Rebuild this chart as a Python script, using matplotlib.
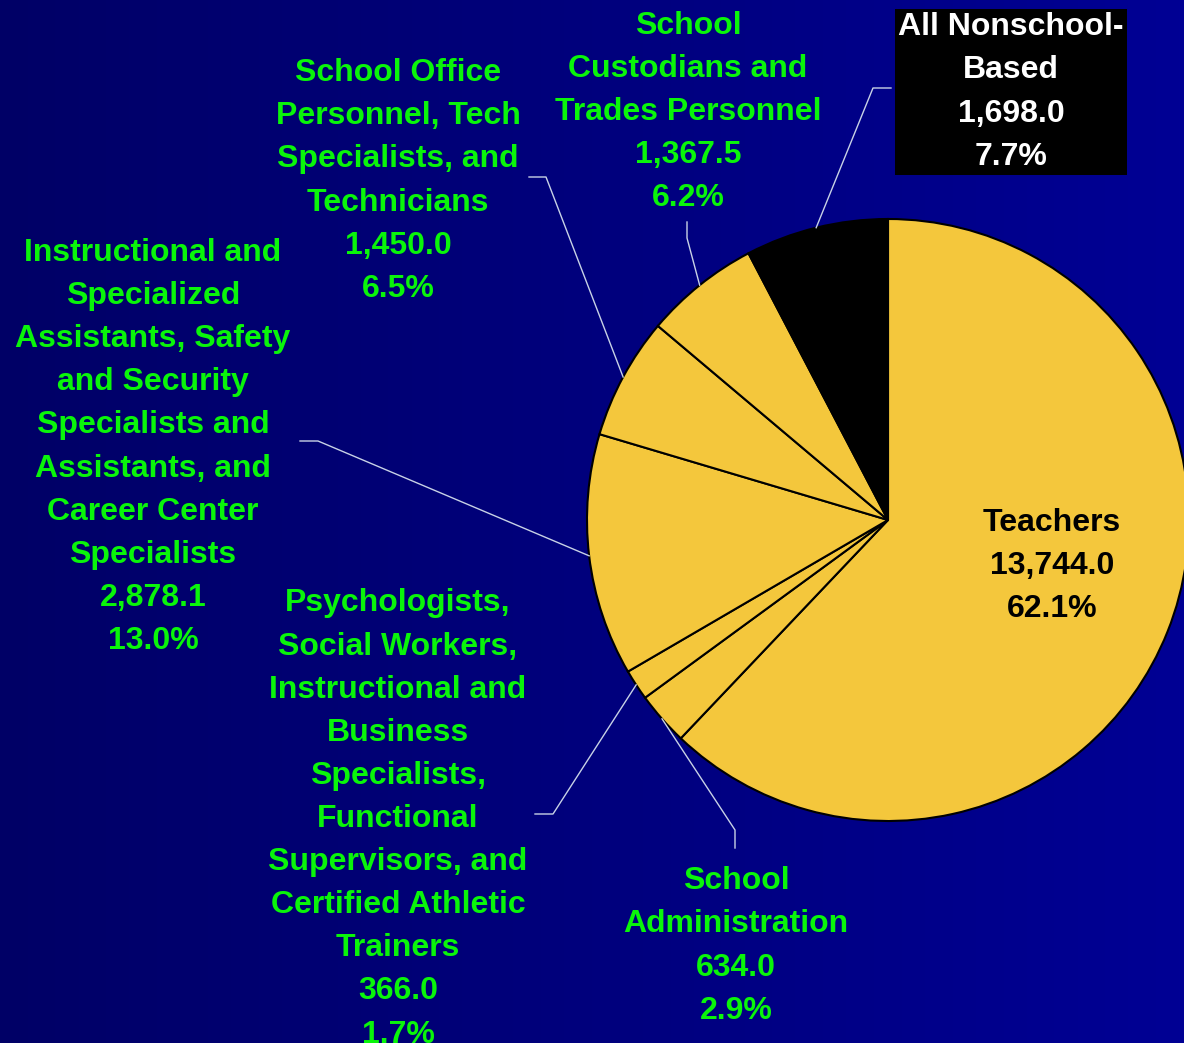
import numpy as np
import matplotlib
matplotlib.use("Agg")
import matplotlib.pyplot as plt

# данные
labels = ["Teachers", "School\nAdministration",
          "Psychologists,\nSocial Workers,\nInstructional and\nBusiness\nSpecialists,\nFunctional\nSupervisors, and\nCertified Athletic\nTrainers",
          "Instructional and\nSpecialized\nAssistants, Safety\nand Security\nSpecialists and\nAssistants, and\nCareer Center\nSpecialists",
          "School Office\nPersonnel, Tech\nSpecialists, and\nTechnicians",
          "School\nCustodians and\nTrades Personnel",
          "All Nonschool-\nBased"]
values = [13744.0, 634.0, 366.0, 2878.1, 1450.0, 1367.5, 1698.0]
pcts = ["62.1%", "2.9%", "1.7%", "13.0%", "6.5%", "6.2%", "7.7%"]
colors = ["#F4C73C"] * 6 + ["#000000"]

W, H = 1184, 1043
fig = plt.figure(figsize=(W / 100, H / 100), dpi=100)
ax = fig.add_axes([0, 0, 1, 1])

# фон - градиент
grad = np.linspace(0, 1, 256).reshape(1, -1)
bg = matplotlib.colors.LinearSegmentedColormap.from_list("bg", ["#000066", "#000094"])
ax.imshow(grad, extent=[0, W, 0, H], cmap=bg, aspect="auto", zorder=0)

cx, cy, r = 888, H - 520, 301
wedges, _ = ax.pie(values, colors=colors, startangle=90, counterclock=False,
                   center=(cx, cy), radius=r, frame=True,
                   wedgeprops=dict(edgecolor="black", linewidth=1.5))
ax.set_xlim(0, W)
ax.set_ylim(0, H)
ax.set_aspect("equal")
ax.axis("off")
for w in wedges:
    w.set_zorder(2)

green = "#0AF50A"
font = dict(family="Liberation Sans", fontweight="bold", fontsize=23,
            ha="center", va="center", linespacing=1.57, zorder=5)

def fmt(v):
    return f"{v:,.1f}"

# позиции подписей (x, y в пикселях сверху) и изломы линий
label_pos = {
    0: (1052, 566),
    1: (736, 946),
    2: (398, 819),
    3: (153, 447),
    4: (398, 181),
    5: (688, 112),
    6: (1011, 92),
}
leaders = {
    1: [(735, 830), (735, 848)],
    2: [(553, 814), (535, 814)],
    3: [(318, 441), (300, 441)],
    4: [(546, 177), (529, 177)],
    5: [(687, 238), (687, 222)],
    6: [(873, 88), (891, 88)],
}

for i, w in enumerate(wedges):
    text = f"{labels[i]}\n{fmt(values[i])}\n{pcts[i]}"
    x, y = label_pos[i]
    if i == 0:
        ax.text(x, H - y, text, color="black", **font)
    elif i == 6:
        ax.text(x, H - y, text, color="white",
                bbox=dict(facecolor="black", edgecolor="none", pad=2), **font)
    else:
        ax.text(x, H - y, text, color=green, **font)
    if i in leaders:
        ang = np.deg2rad((w.theta1 + w.theta2) / 2)
        px, py = cx + r * np.cos(ang), cy + r * np.sin(ang)
        pts = [(px, py)] + [(a, H - b) for a, b in leaders[i]]
        ax.plot([p[0] for p in pts], [p[1] for p in pts], color="#C8D2E6",
                linewidth=1, zorder=3)

fig.savefig("out.png", dpi=100)
